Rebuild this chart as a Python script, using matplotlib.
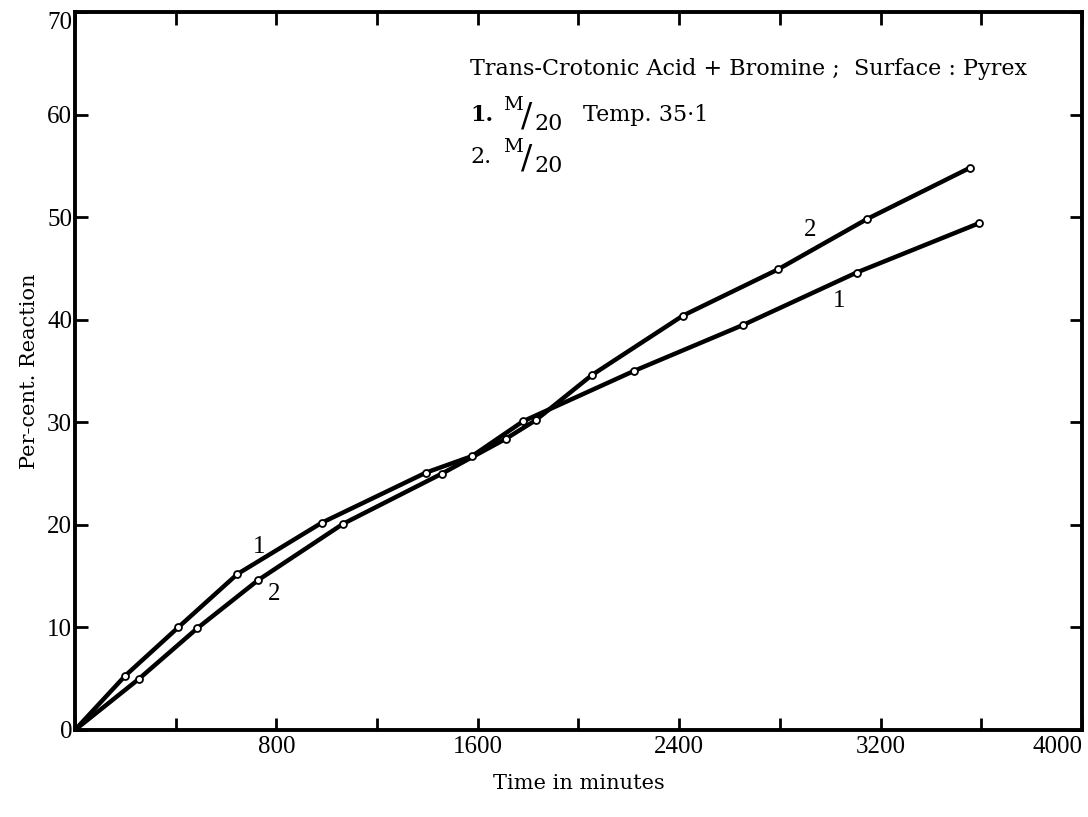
## Trans-crotonic acid + bromine, per-cent reaction vs time (Pyrex surface)

import matplotlib
matplotlib.use("Agg")
import matplotlib.pyplot as plt
from matplotlib.ticker import MultipleLocator, FixedLocator
from matplotlib.transforms import offset_copy

# curve 1 : M/20, Temp. 35.1
time_1 = [0, 200, 410, 645, 980, 1395, 1577, 1780, 2220, 2655, 3105, 3590]
react_1 = [0, 5.3, 10.0, 15.2, 20.2, 25.1, 26.7, 30.1, 35.0, 39.5, 44.6, 49.4]

# curve 2 : M/20
time_2 = [0, 255, 485, 727, 1065, 1458, 1712, 1830, 2053, 2415, 2792, 3145, 3554]
react_2 = [0, 5.0, 9.9, 14.6, 20.1, 25.0, 28.4, 30.2, 34.6, 40.4, 44.9, 49.8, 54.8]

x_labels = [800, 1600, 2400, 3200, 4000]
y_labels = [0, 10, 20, 30, 40, 50, 60, 70]

tickfont = "Liberation Serif"
textfont = "DejaVu Serif"

fig = plt.figure(figsize=(10.88, 8.17), dpi=100)
ax = fig.add_axes([0.0689, 0.1065, 0.9256, 0.8788])

for t, r in [(time_1, react_1), (time_2, react_2)]:
    ax.plot(t, r, color='black', lw=3.2, solid_capstyle='round',
            solid_joinstyle='round', zorder=2)
    ax.plot(t[1:], r[1:], 'o', ms=5, mfc='white', mec='black', mew=1.3, zorder=3)

ax.set_xlim(0, 4000)
ax.set_ylim(0, 70)

ax.xaxis.set_major_locator(FixedLocator(x_labels))
ax.xaxis.set_minor_locator(MultipleLocator(400))
ax.yaxis.set_major_locator(FixedLocator(y_labels))
ax.tick_params(which='both', direction='in', top=True, right=True,
               length=9, width=2, labelsize=18, pad=4)
ax.tick_params(axis='y', pad=2)
for lab in ax.get_xticklabels() + ax.get_yticklabels():
    lab.set_fontfamily(tickfont)
ax.get_xticklabels()[-1].set_horizontalalignment('right')
ax.get_yticklabels()[-1].set_verticalalignment('top')
for sp in ax.spines.values():
    sp.set_linewidth(2.8)

ax.set_xlabel("Time in minutes", fontsize=15, family=textfont, labelpad=12)
ax.set_ylabel("Per-cent. Reaction", fontsize=15, family=textfont, labelpad=6)

# curve labels
for x, y, s in [(731, 17.8, "1"), (790, 13.3, "2"), (2919, 48.7, "2"), (3034, 41.8, "1")]:
    ax.text(x, y, s, fontsize=18, family=tickfont, ha='center', va='center')

# header text, anchored at data position, pieces shifted in pixels
hx = 1569
ax.text(hx, 63.9, "Trans-Crotonic Acid + Bromine ;  Surface : Pyrex",
        fontsize=16, family=textfont, ha='left', va='baseline')


def piece(x, y, s, dx, dy, size, weight='normal'):
    tr = offset_copy(ax.transData, fig=fig, x=dx, y=dy, units='dots')
    ax.text(x, y, s, transform=tr, fontsize=size, family=textfont,
            weight=weight, ha='left', va='baseline')


for y, num, extra, w in [(59.4, "1.", "Temp. 35·1", 'bold'), (55.3, "2.", None, 'normal')]:
    piece(hx, y, num, 0, 0, 16, w)
    piece(hx, y, "M", 33, 11, 14)
    piece(hx, y, "/", 51, -6, 24)
    piece(hx, y, "20", 64, -9, 16)
    if extra:
        piece(hx, y, extra, 113, 0, 16)

fig.savefig("out.png", dpi=100)
